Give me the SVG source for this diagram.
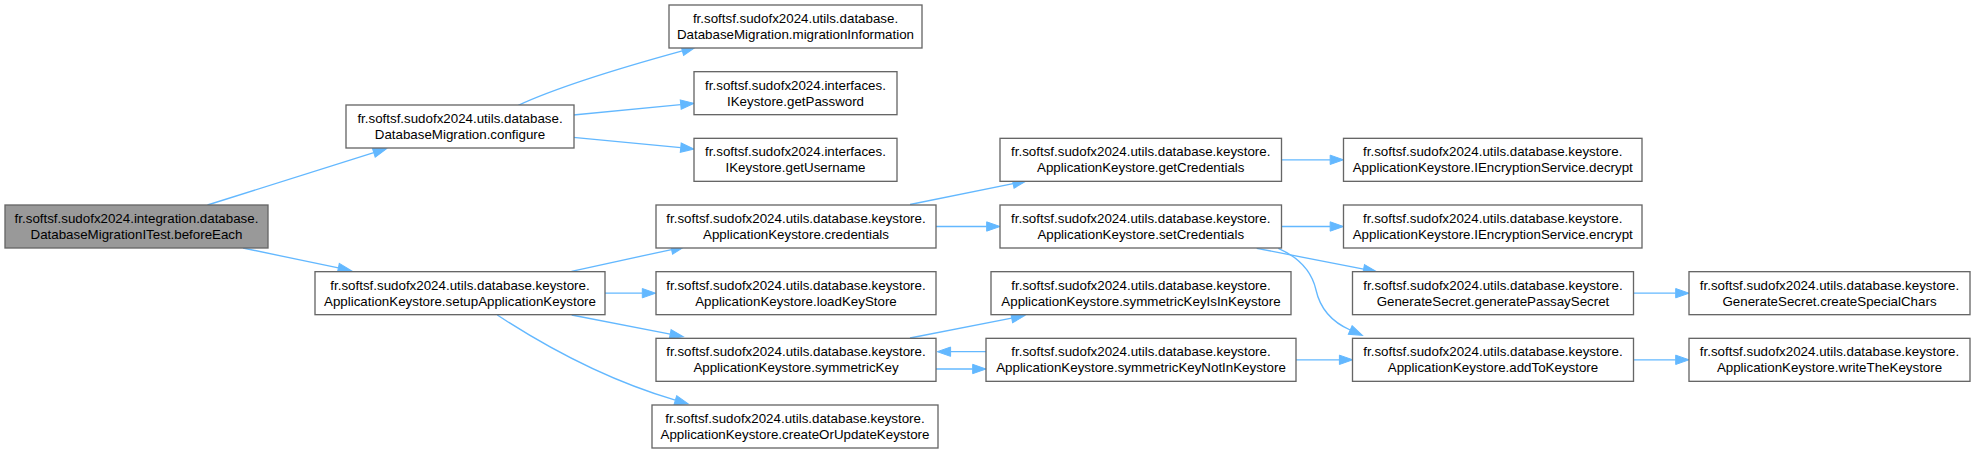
<svg xmlns="http://www.w3.org/2000/svg" width="1976" height="453" viewBox="0 0 1976 453">
<style>
.node rect{fill:#ffffff;stroke:#666666;stroke-width:1.33}
.node.root rect{fill:#999999}
.node text{font-family:"Liberation Sans",Arial,sans-serif;font-size:13.33px;fill:#000000;text-anchor:middle}
.edge{fill:none;stroke:#63b8ff;stroke-width:1.33;marker-end:url(#arr)}
</style>
<defs>
<marker id="arr" markerUnits="userSpaceOnUse" markerWidth="16" markerHeight="12" viewBox="0 -6 16 12" refX="0" refY="0" orient="auto" overflow="visible">
<path d="M0,-4.67 L13.33,0 L0,4.67 z" fill="#63b8ff" stroke="#63b8ff" stroke-width="1"/>
</marker>
</defs>
<rect width="1976" height="453" fill="#ffffff"/>
<g id="connectors">
<path class="edge" d="M207.5,205 L373.8,152.7"/>
<path class="edge" d="M243,248 L338.35,267.97"/>
<path class="edge" d="M518.3,105.3 C560,86 620,68 682.35,50.9"/>
<path class="edge" d="M573.3,115 L680.73,104.59"/>
<path class="edge" d="M573.3,137.3 L680.73,147.71"/>
<path class="edge" d="M571.5,271.3 L671.57,249.53"/>
<path class="edge" d="M605,293.2 L642.3,293.2"/>
<path class="edge" d="M571.7,315 L670.22,334.16"/>
<path class="edge" d="M497.3,315 C540,343 600,378 675.34,400.18"/>
<path class="edge" d="M910,204.5 L1013.13,183.62"/>
<path class="edge" d="M936,226.5 L986.67,226.5"/>
<path class="edge" d="M1281.5,159.8 L1330.17,159.8"/>
<path class="edge" d="M1281.5,226.5 L1330.17,226.5"/>
<path class="edge" d="M1256.7,248.3 L1363.6,269.15"/>
<path class="edge" d="M1278.3,248.3 C1300,258 1312,272 1316,290 C1320,308 1332,322 1350.2,330"/>
<path class="edge" d="M910,338 L1011.7,318.2"/>
<path class="edge" d="M986,351.7 L950.6,351.7"/>
<path class="edge" d="M936,369 L972.67,369"/>
<path class="edge" d="M1296,359.8 L1339.4,359.8"/>
<path class="edge" d="M1633.5,293.2 L1675.7,293.2"/>
<path class="edge" d="M1633.5,359.8 L1675.7,359.8"/>
</g>
<g id="n0" class="node root"><rect x="5" y="205" width="263" height="43"/><text x="136.5" y="223">fr.softsf.sudofx2024.integration.database.</text><text x="136.5" y="239">DatabaseMigrationITest.beforeEach</text></g>
<g id="n1" class="node"><rect x="346" y="105" width="228" height="43"/><text x="460" y="123">fr.softsf.sudofx2024.utils.database.</text><text x="460" y="139">DatabaseMigration.configure</text></g>
<g id="n2" class="node"><rect x="315" y="271.67" width="290" height="43"/><text x="460" y="289.67">fr.softsf.sudofx2024.utils.database.keystore.</text><text x="460" y="305.67">ApplicationKeystore.setupApplicationKeystore</text></g>
<g id="n3" class="node"><rect x="669" y="5" width="253" height="43"/><text x="795.5" y="23">fr.softsf.sudofx2024.utils.database.</text><text x="795.5" y="39">DatabaseMigration.migrationInformation</text></g>
<g id="n4" class="node"><rect x="694" y="71.67" width="203" height="43"/><text x="795.5" y="89.67">fr.softsf.sudofx2024.interfaces.</text><text x="795.5" y="105.67">IKeystore.getPassword</text></g>
<g id="n5" class="node"><rect x="694" y="138.33" width="203" height="43"/><text x="795.5" y="156.33">fr.softsf.sudofx2024.interfaces.</text><text x="795.5" y="172.33">IKeystore.getUsername</text></g>
<g id="n6" class="node"><rect x="656" y="205" width="280" height="43"/><text x="796" y="223">fr.softsf.sudofx2024.utils.database.keystore.</text><text x="796" y="239">ApplicationKeystore.credentials</text></g>
<g id="n7" class="node"><rect x="656" y="271.67" width="280" height="43"/><text x="796" y="289.67">fr.softsf.sudofx2024.utils.database.keystore.</text><text x="796" y="305.67">ApplicationKeystore.loadKeyStore</text></g>
<g id="n8" class="node"><rect x="656" y="338.33" width="280" height="43"/><text x="796" y="356.33">fr.softsf.sudofx2024.utils.database.keystore.</text><text x="796" y="372.33">ApplicationKeystore.symmetricKey</text></g>
<g id="n9" class="node"><rect x="652" y="405" width="286" height="43"/><text x="795" y="423">fr.softsf.sudofx2024.utils.database.keystore.</text><text x="795" y="439">ApplicationKeystore.createOrUpdateKeystore</text></g>
<g id="n10" class="node"><rect x="1000" y="138.33" width="281.5" height="43"/><text x="1140.75" y="156.33">fr.softsf.sudofx2024.utils.database.keystore.</text><text x="1140.75" y="172.33">ApplicationKeystore.getCredentials</text></g>
<g id="n11" class="node"><rect x="1000" y="205" width="281.5" height="43"/><text x="1140.75" y="223">fr.softsf.sudofx2024.utils.database.keystore.</text><text x="1140.75" y="239">ApplicationKeystore.setCredentials</text></g>
<g id="n12" class="node"><rect x="991" y="271.67" width="300" height="43"/><text x="1141" y="289.67">fr.softsf.sudofx2024.utils.database.keystore.</text><text x="1141" y="305.67">ApplicationKeystore.symmetricKeyIsInKeystore</text></g>
<g id="n13" class="node"><rect x="986" y="338.33" width="310" height="43"/><text x="1141" y="356.33">fr.softsf.sudofx2024.utils.database.keystore.</text><text x="1141" y="372.33">ApplicationKeystore.symmetricKeyNotInKeystore</text></g>
<g id="n14" class="node"><rect x="1343.5" y="138.33" width="298.5" height="43"/><text x="1492.75" y="156.33">fr.softsf.sudofx2024.utils.database.keystore.</text><text x="1492.75" y="172.33">ApplicationKeystore.IEncryptionService.decrypt</text></g>
<g id="n15" class="node"><rect x="1343.5" y="205" width="298.5" height="43"/><text x="1492.75" y="223">fr.softsf.sudofx2024.utils.database.keystore.</text><text x="1492.75" y="239">ApplicationKeystore.IEncryptionService.encrypt</text></g>
<g id="n16" class="node"><rect x="1352.5" y="271.67" width="281" height="43"/><text x="1493" y="289.67">fr.softsf.sudofx2024.utils.database.keystore.</text><text x="1493" y="305.67">GenerateSecret.generatePassaySecret</text></g>
<g id="n17" class="node"><rect x="1352.5" y="338.33" width="281" height="43"/><text x="1493" y="356.33">fr.softsf.sudofx2024.utils.database.keystore.</text><text x="1493" y="372.33">ApplicationKeystore.addToKeystore</text></g>
<g id="n18" class="node"><rect x="1689" y="271.67" width="281" height="43"/><text x="1829.5" y="289.67">fr.softsf.sudofx2024.utils.database.keystore.</text><text x="1829.5" y="305.67">GenerateSecret.createSpecialChars</text></g>
<g id="n19" class="node"><rect x="1689" y="338.33" width="281" height="43"/><text x="1829.5" y="356.33">fr.softsf.sudofx2024.utils.database.keystore.</text><text x="1829.5" y="372.33">ApplicationKeystore.writeTheKeystore</text></g>
</svg>
